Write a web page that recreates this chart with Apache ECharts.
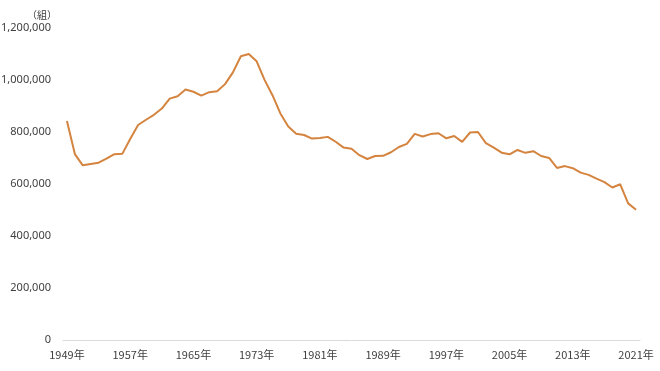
<!DOCTYPE html>
<html><head><meta charset="utf-8">
<script src="https://cdn.jsdelivr.net/npm/echarts@6/dist/echarts.min.js"></script>
<style>html,body{margin:0;padding:0;background:#fff}#c{width:660px;height:371px}</style>
</head><body><div id="c"></div>
<script>
var years = [];
for (var y = 1949; y <= 2021; y++) years.push(y + '年');
var marriages = [842170,715081,671905,676995,682077,697809,714861,715934,773362,826902,
847135,866115,890158,928341,937516,963130,954852,940120,953096,956312,
984142,1029405,1091229,1099984,1071923,1000455,941628,871543,821029,793257,
788505,774702,776531,781252,762552,739991,735850,710962,696173,707716,
708316,722138,742264,754441,792658,782738,791888,795080,775651,784595,
762028,798138,799999,757331,740191,720417,714265,730971,719822,726106,
707734,700222,661895,668869,660613,643749,635225,620531,606952,586481,
599007,525507,501138];
var unitLabel = '（組）';
var chart = echarts.init(document.getElementById('c'));
chart.setOption({
  animation: false,
  grid: {left: 63, right: 20, top: 28, bottom: 31, containLabel: false, outerBoundsMode: 'none'},
  xAxis: {
    type: 'category', data: years, boundaryGap: true,
    axisLine: {lineStyle: {color: '#d9d9d9'}},
    axisTick: {show: false},
    axisLabel: {interval: 7, color: '#404040', fontSize: 11, fontFamily: 'Noto Sans CJK JP', margin: 9}
  },
  yAxis: {
    type: 'value', min: 0, max: 1200000, interval: 200000,
    name: unitLabel, nameGap: 8,
    nameTextStyle: {color: '#404040', fontSize: 10, fontFamily: 'Noto Sans CJK JP', align: 'right', padding: [0, 6, 0, 0]},
    splitLine: {show: false},
    axisLine: {show: false}, axisTick: {show: false},
    axisLabel: {color: '#404040', fontSize: 11, fontFamily: 'Noto Sans', margin: 12,
      formatter: function(v){ return v.toLocaleString('en-US'); }}
  },
  series: [{
    type: 'line', data: marriages, symbol: 'none',
    lineStyle: {color: '#D4843F', width: 2}
  }]
});
</script></body></html>
